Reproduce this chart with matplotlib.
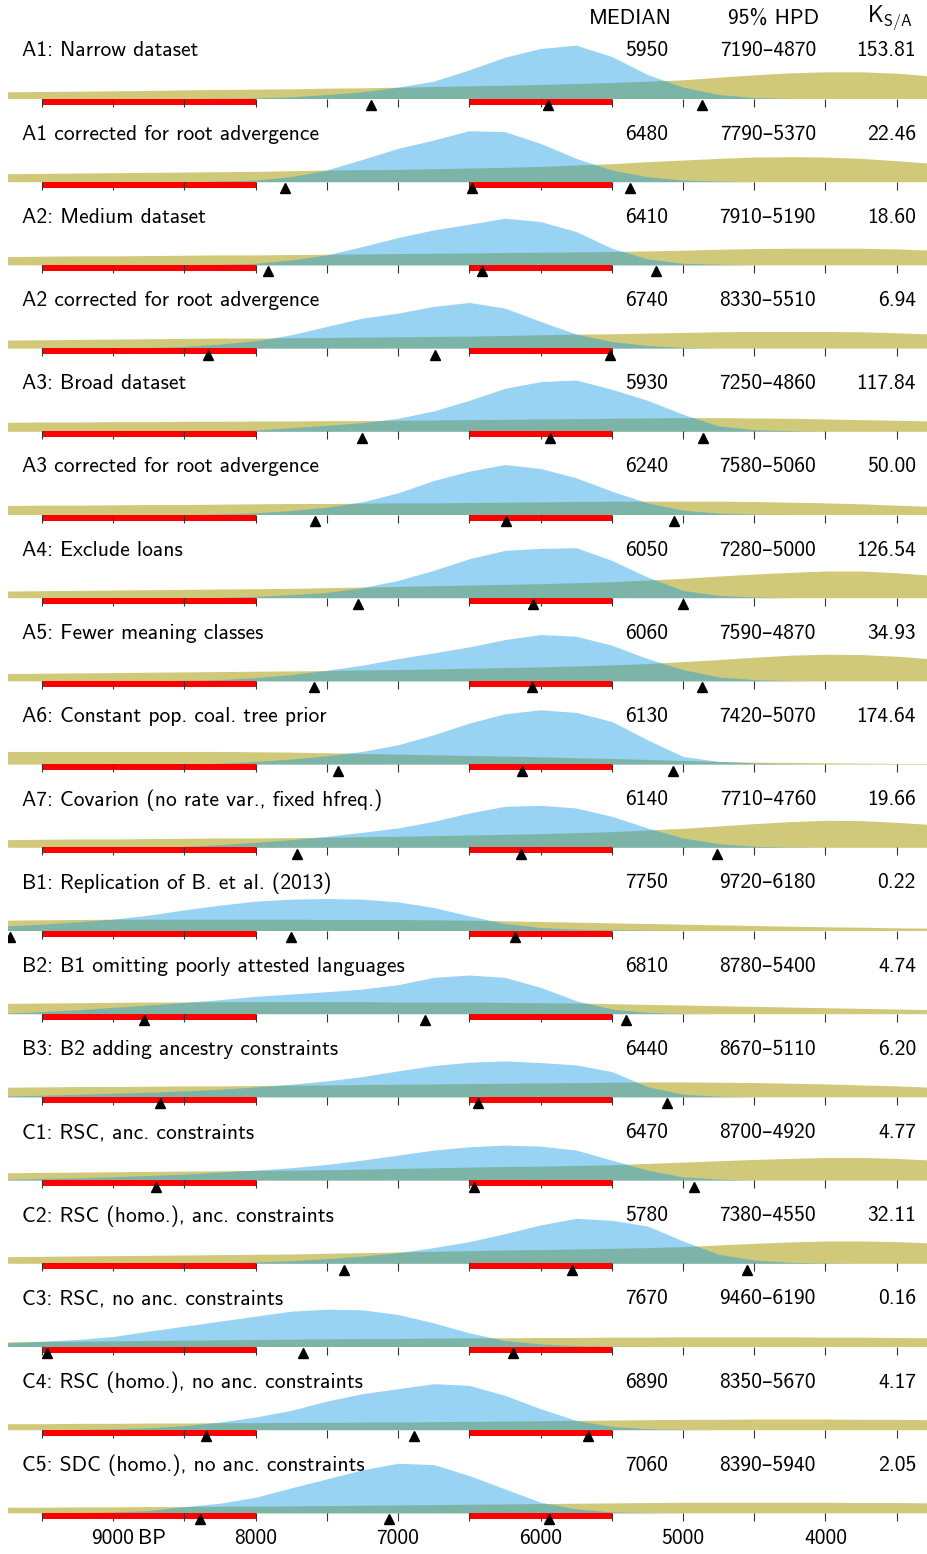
import matplotlib.pyplot as plt
import numpy as np

plt.rcParams['font.family'] = ['cmss10', 'DejaVu Sans']
plt.rcParams['mathtext.fontset'] = 'cm'
plt.rcParams['axes.unicode_minus'] = False

years = [9740, 9500, 9250, 9000, 8750, 8500, 8250, 8000, 7750, 7500, 7250, 7000, 6750,
         6500, 6250, 6000, 5750, 5500, 5250, 5000, 4750, 4500, 4250, 4000, 3750, 3500, 3250]

labels = [
    "A1: Narrow dataset",
    "A1 corrected for root advergence",
    "A2: Medium dataset",
    "A2 corrected for root advergence",
    "A3: Broad dataset",
    "A3 corrected for root advergence",
    "A4: Exclude loans",
    "A5: Fewer meaning classes",
    "A6: Constant pop. coal. tree prior",
    "A7: Covarion (no rate var., fixed hfreq.)",
    "B1: Replication of B. et al. (2013)",
    "B2: B1 omitting poorly attested languages",
    "B3: B2 adding ancestry constraints",
    "C1: RSC, anc. constraints",
    "C2: RSC (homo.), anc. constraints",
    "C3: RSC, no anc. constraints",
    "C4: RSC (homo.), no anc. constraints",
    "C5: SDC (homo.), no anc. constraints",
]
medians = [5950, 6480, 6410, 6740, 5930, 6240, 6050, 6060, 6130, 6140,
           7750, 6810, 6440, 6470, 5780, 7670, 6890, 7060]
hpd_old = [7190, 7790, 7910, 8330, 7250, 7580, 7280, 7590, 7420, 7710,
           9720, 8780, 8670, 8700, 7380, 9460, 8350, 8390]
hpd_young = [4870, 5370, 5190, 5510, 4860, 5060, 5000, 4870, 5070, 4760,
             6180, 5400, 5110, 4920, 4550, 6190, 5670, 5940]
k_values = ["153.81", "22.46", "18.60", "6.94", "117.84", "50.00", "126.54", "34.93", "174.64",
            "19.66", "0.22", "4.74", "6.20", "4.77", "32.11", "0.16", "4.17", "2.05"]

# Posterior densities (arbitrary units), one list per row.
posterior = [
    [0, 0, 0, 0, 0, 0, 1, 2, 5, 12, 20, 34, 52, 86, 124, 150, 160, 126, 72, 34, 12, 3, 0, 0, 0, 0, 0],
    [0, 0, 0, 0, 0, 0, 2, 5, 15, 35, 67, 100, 125, 153, 150, 115, 70, 35, 15, 5, 2, 0, 0, 0, 0, 0, 0],
    [0, 0, 0, 0, 0, 1, 2, 5, 15, 30, 55, 82, 105, 122, 140, 130, 100, 50, 18, 5, 2, 0, 0, 0, 0, 0, 0],
    [0, 0, 0, 0, 2, 5, 12, 22, 40, 65, 90, 105, 125, 137, 120, 80, 42, 20, 8, 2, 0, 0, 0, 0, 0, 0, 0],
    [0, 0, 0, 0, 0, 0, 2, 4, 11, 18, 26, 39, 61, 93, 129, 149, 154, 126, 93, 51, 16, 5, 2, 0, 0, 0, 0],
    [0, 0, 0, 0, 0, 0, 2, 5, 12, 22, 38, 65, 102, 130, 150, 138, 110, 70, 35, 13, 4, 1, 0, 0, 0, 0, 0],
    [0, 0, 0, 0, 0, 0, 1, 4, 9, 16, 30, 52, 82, 117, 142, 148, 150, 112, 62, 22, 7, 2, 0, 0, 0, 0, 0],
    [0, 0, 0, 0, 0, 2, 4, 10, 19, 32, 47, 67, 84, 102, 124, 139, 134, 107, 67, 34, 12, 4, 1, 0, 0, 0, 0],
    [0, 0, 0, 0, 0, 0, 3, 8, 15, 25, 38, 58, 88, 123, 151, 163, 155, 128, 73, 23, 8, 3, 1, 0, 0, 0, 0],
    [0, 0, 0, 0, 0, 3, 8, 15, 23, 33, 45, 58, 78, 103, 123, 126, 118, 93, 58, 28, 11, 3, 1, 0, 0, 0, 0],
    [14, 19, 26, 34, 46, 62, 76, 88, 94, 96, 94, 86, 69, 44, 21, 9, 4, 2, 1, 0, 0, 0, 0, 0, 0, 0, 0],
    [2, 6, 12, 19, 26, 34, 42, 52, 59, 66, 74, 87, 109, 116, 109, 79, 39, 14, 4, 1, 0, 0, 0, 0, 0, 0, 0],
    [3, 5, 8, 11, 14, 18, 23, 30, 38, 48, 61, 78, 94, 104, 108, 103, 96, 76, 31, 8, 2, 0, 0, 0, 0, 0, 0],
    [2, 5, 7, 10, 14, 18, 24, 30, 37, 47, 60, 75, 90, 100, 105, 102, 90, 60, 30, 10, 3, 0, 0, 0, 0, 0, 0],
    [0, 0, 0, 0, 0, 0, 2, 4, 8, 14, 22, 32, 47, 65, 89, 115, 135, 129, 112, 67, 27, 10, 3, 1, 0, 0, 0],
    [11, 16, 21, 30, 46, 61, 76, 91, 106, 112, 110, 96, 71, 41, 18, 8, 3, 1, 0, 0, 0, 0, 0, 0, 0, 0, 0],
    [0, 0, 1, 3, 6, 12, 23, 38, 58, 86, 108, 123, 138, 133, 103, 63, 28, 10, 3, 1, 0, 0, 0, 0, 0, 0, 0],
    [0, 0, 1, 3, 7, 19, 29, 47, 75, 102, 129, 149, 145, 112, 72, 32, 12, 3, 1, 0, 0, 0, 0, 0, 0, 0, 0],
]

# Prior densities (same units).
prior = [
    [20, 21, 22, 23, 24, 26, 27, 28, 29, 31, 32, 34, 36, 38, 40, 42, 45, 48, 52, 56, 64, 71, 77, 80, 80, 76, 67],
    [24, 25, 26, 27, 28, 29, 30, 31, 33, 35, 36, 37, 39, 41, 43, 46, 50, 54, 60, 65, 70, 74, 75, 74, 70, 63, 55],
    [25, 26, 27, 27, 28, 29, 30, 30, 31, 32, 33, 34, 35, 36, 37, 38, 39, 40, 42, 44, 47, 49, 50, 50, 50, 48, 44],
    [24, 25, 26, 27, 28, 29, 30, 30, 31, 32, 33, 34, 35, 36, 38, 40, 42, 43, 45, 47, 49, 50, 50, 50, 49, 46, 42],
    [27, 28, 28, 29, 29, 30, 30, 31, 31, 32, 32, 33, 34, 35, 36, 37, 38, 39, 40, 41, 41, 40, 39, 37, 35, 33, 31],
    [27, 28, 28, 29, 30, 30, 31, 32, 33, 33, 34, 35, 35, 36, 37, 38, 39, 40, 40, 40, 40, 39, 37, 35, 32, 28, 24],
    [20, 21, 22, 23, 24, 25, 26, 27, 28, 30, 32, 34, 36, 38, 40, 42, 45, 48, 53, 58, 65, 71, 76, 80, 80, 75, 67],
    [22, 23, 24, 25, 26, 27, 28, 29, 30, 31, 33, 34, 36, 38, 40, 42, 45, 48, 52, 58, 64, 71, 77, 80, 79, 74, 66],
    [38, 38, 38, 38, 38, 38, 38, 37, 36, 34, 32, 30, 28, 26, 24, 22, 19, 17, 14, 11, 8, 6, 5, 4, 3, 2, 2],
    [23, 24, 25, 25, 26, 27, 28, 28, 29, 30, 32, 33, 35, 37, 39, 41, 44, 47, 52, 57, 64, 71, 77, 81, 80, 75, 68],
    [31, 32, 33, 34, 34, 34, 34, 34, 34, 33, 33, 33, 32, 31, 29, 27, 25, 23, 21, 19, 17, 15, 13, 11, 10, 8, 7],
    [31, 32, 33, 34, 35, 35, 36, 36, 36, 36, 36, 35, 35, 35, 34, 33, 32, 30, 28, 26, 24, 22, 20, 18, 16, 14, 12],
    [29, 30, 31, 31, 32, 33, 33, 34, 35, 36, 37, 38, 39, 40, 41, 42, 43, 44, 45, 45, 44, 43, 41, 39, 36, 33, 29],
    [22, 23, 24, 25, 26, 27, 28, 29, 30, 31, 33, 35, 37, 39, 41, 42, 44, 46, 50, 54, 58, 62, 65, 68, 68, 65, 60],
    [20, 21, 22, 23, 24, 25, 26, 27, 28, 30, 32, 34, 36, 38, 40, 41, 43, 45, 47, 50, 55, 60, 64, 67, 67, 65, 61],
    [14, 15, 16, 17, 18, 19, 20, 21, 22, 23, 24, 24, 25, 26, 26, 27, 27, 28, 28, 29, 29, 29, 29, 28, 28, 27, 26],
    [18, 18, 19, 19, 20, 20, 21, 21, 22, 22, 23, 23, 24, 25, 26, 27, 28, 29, 30, 31, 31, 32, 32, 32, 31, 31, 30],
    [17, 17, 18, 18, 19, 19, 20, 20, 21, 22, 23, 24, 25, 26, 27, 28, 29, 30, 31, 32, 32, 32, 32, 32, 31, 31, 30],
]

# Hypothesis ranges drawn in red (Anatolian and steppe).
hypotheses = [(9500, 8000), (6500, 5500)]
ticks = [9500, 9000, 8500, 8000, 7500, 7000, 6500, 6000, 5500, 5000, 4500, 4000, 3500]
axis_labels = [9000, 8000, 7000, 6000, 5000, 4000]

W, H = 928, 1554
PX_PER_YEAR = 0.1425


def year_at(px):
    # figure pixel -> year BP
    return 9000 - (px - 113) / PX_PER_YEAR


fig = plt.figure(figsize=(W / 100, H / 100), dpi=100)
ax = fig.add_axes([8 / W, 0, (W - 8) / W, 1])
ax.set_xlim(year_at(8), year_at(W))
ax.set_ylim(H, 0)
ax.axis('off')

khaki = '#d0c97a'
blue = '#119ae7'
scale = 1 / 3.0
fontsize = 15.5

row_step = 83.2
first_base = 98.5

for i, lab in enumerate(labels):
    base = first_base + i * row_step
    pr = np.array(prior[i]) * scale
    po = np.array(posterior[i]) * scale
    ax.fill_between(years, base, base - pr, color=khaki, lw=0)
    ax.fill_between(years, base, base - po, color=blue, alpha=0.43, lw=0)

    for a, b in hypotheses:
        ax.fill_between([a, b], base, base + 6, color='#ff0000', lw=0)
    ax.vlines(ticks, base, base + 8, color='#333333', lw=0.8)

    ax.plot([hpd_old[i], medians[i], hpd_young[i]], [base + 6.5] * 3,
            linestyle='none', marker='^', color='black', markersize=7.8)

    ty = base - 47.5
    ax.text(year_at(22), ty, lab, fontsize=fontsize, ha='left', va='center', clip_on=False)
    ax.text(year_at(668), ty, str(medians[i]), fontsize=fontsize, ha='right', va='center')
    ax.text(year_at(816), ty, f"{hpd_old[i]}\u2013{hpd_young[i]}", fontsize=fontsize,
            ha='right', va='center')
    ax.text(year_at(916), ty, k_values[i], fontsize=fontsize, ha='right', va='center')

# Header
ax.text(year_at(672), 18, "MEDIAN", fontsize=fontsize, ha='right', va='center')
ax.text(year_at(819), 18, "95% HPD", fontsize=fontsize, ha='right', va='center')
ax.text(year_at(913), 18, r"$\mathsf{K_{S/A}}$", fontsize=fontsize + 1, ha='right', va='center')

# Year axis labels at the bottom
for yr in axis_labels:
    ax.text(yr, 1539, str(yr), fontsize=fontsize, ha='center', va='center')
ax.annotate("BP", xy=(9000, 1539), xytext=(18, 0), textcoords='offset points',
            fontsize=fontsize, ha='left', va='center')

fig.savefig('out.png', dpi=100)
plt.close()
